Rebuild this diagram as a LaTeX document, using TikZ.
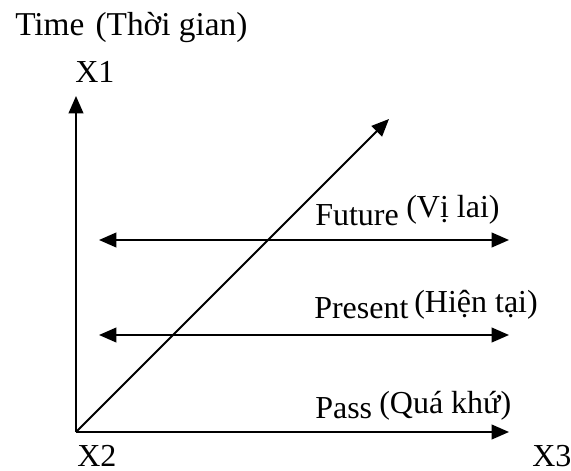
\documentclass[tikz,border=0pt]{standalone}
\usepackage{fontspec}
\setmainfont{Liberation Serif}
\usetikzlibrary{arrows.meta}
\begin{document}
\begin{tikzpicture}[x=0.75pt,y=-0.75pt,
  lbl/.style={inner sep=0pt, anchor=base west, font=\fontsize{24}{28}\selectfont},
  ax/.style={line width=1.4pt, -{Triangle[length=13pt,width=11pt]}},
  bax/.style={line width=1.4pt, {Triangle[length=13pt,width=11pt]}-{Triangle[length=13pt,width=11pt]}}]
\useasboundingbox (0,0) rectangle (571,471);
% axes points
\coordinate (O) at (76,432);
\coordinate (Ytip) at (76,96);
\coordinate (Xtip) at (509,432);
\coordinate (Dtip) at (389,119);
\coordinate (FL) at (99,240);
\coordinate (FR) at (509,240);
\coordinate (PL) at (99,335);
\coordinate (PR) at (509,335);
% connectors
\draw[ax] (O) -- (Ytip);
\draw[ax] (O) -- (Xtip);
\draw[ax] (O) -- (Dtip);
\draw[bax] (FL) -- (FR);
\draw[bax] (PL) -- (PR);
% labels
\node[lbl, font=\fontsize{25}{29}\selectfont] (time) at (15,36) {Time\,\,(Thời gian)};
\node[lbl] (x1) at (75,82) {X1};
\node[lbl] (x2) at (77,466) {X2};
\node[lbl] (x3) at (532,466) {X3};
\node[lbl] (fut) at (315,225) {Future};
\node[lbl] (futv) at (406,217) {(Vị lai)};
\node[lbl] (pre) at (314,318) {Present};
\node[lbl] (prev) at (414,312) {(Hiện tại)};
\node[lbl] (pas) at (315,418) {Pass};
\node[lbl] (pasv) at (379,413) {(Quá khứ)};
\end{tikzpicture}
\end{document}
